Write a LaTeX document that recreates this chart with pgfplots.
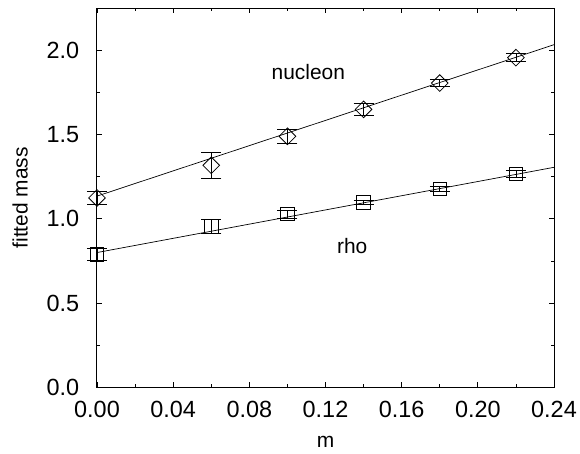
\documentclass[border=0pt]{standalone}
\usepackage{fontspec}
\setmainfont{Liberation Sans}
\usepackage{pgfplots}
\pgfplotsset{compat=1.18}
\begin{document}
\fontsize{23}{27}\selectfont
\begin{tikzpicture}
\begin{axis}[
  scale only axis, width=457bp, height=379bp,
  xmin=0, xmax=0.24, ymin=0, ymax=2.25,
  xtick={0,0.04,0.08,0.12,0.16,0.20,0.24},
  xticklabels={0.00,0.04,0.08,0.12,0.16,0.20,0.24},
  minor xtick={0.02,0.06,0.10,0.14,0.18,0.22},
  ytick={0,0.5,1,1.5,2},
  yticklabels={0.0,0.5,1.0,1.5,2.0},
  minor ytick={0.25,0.75,1.25,1.75},
  tick align=inside, major tick length=5bp, minor tick length=3bp,
  tick style={black, line width=0.8bp},
  axis line style={line width=1bp},
  clip=false,
  tick label style={font=\fontsize{23.5}{27}\selectfont},
  yticklabel style={xshift=-10bp},
  xticklabel style={yshift=-6bp},
  label style={font=\fontsize{21}{25}\selectfont},
  xlabel={m}, ylabel={fitted mass},
  xlabel style={at={(axis description cs:0.5,-0.144)}, anchor=center},
  ylabel style={at={(axis description cs:-0.168,0.5)}, anchor=center},
]
\addplot[black, only marks, line width=0.8bp, mark=square, mark size=5.9bp, mark options={rotate=45},
  error bars/.cd, y dir=both, y explicit,
  error bar style={line width=0.8bp},
  error mark options={rotate=90, mark size=10bp, line width=0.8bp}]
  table[x=x, y=y, y error=e] {
x y e
0.00 1.124 0.037
0.06 1.318 0.079
0.10 1.490 0.040
0.14 1.650 0.033
0.18 1.806 0.022
0.22 1.957 0.024
};
\addplot[black, only marks, line width=0.8bp, mark=square, mark size=6.7bp,
  error bars/.cd, y dir=both, y explicit,
  error bar style={line width=0.8bp},
  error mark options={rotate=90, mark size=10bp, line width=0.8bp}]
  table[x=x, y=y, y error=e] {
x y e
0.00 0.790 0.035
0.06 0.956 0.040
0.10 1.028 0.024
0.14 1.097 0.012
0.18 1.178 0.015
0.22 1.267 0.020
};
\addplot[black, line width=0.7bp] coordinates {(0,1.135) (0.24,2.034)};
\addplot[black, line width=0.7bp] coordinates {(0,0.800) (0.24,1.306)};
\node[font=\fontsize{21}{25}\selectfont] at (axis cs:0.111,1.87) {nucleon};
\node[font=\fontsize{21}{25}\selectfont] at (axis cs:0.134,0.838) {rho};
\end{axis}
\pgfresetboundingbox
\path (current axis.south west) ++(-97bp,-66.7bp) rectangle ++(580bp,454bp);
\end{tikzpicture}
\end{document}
